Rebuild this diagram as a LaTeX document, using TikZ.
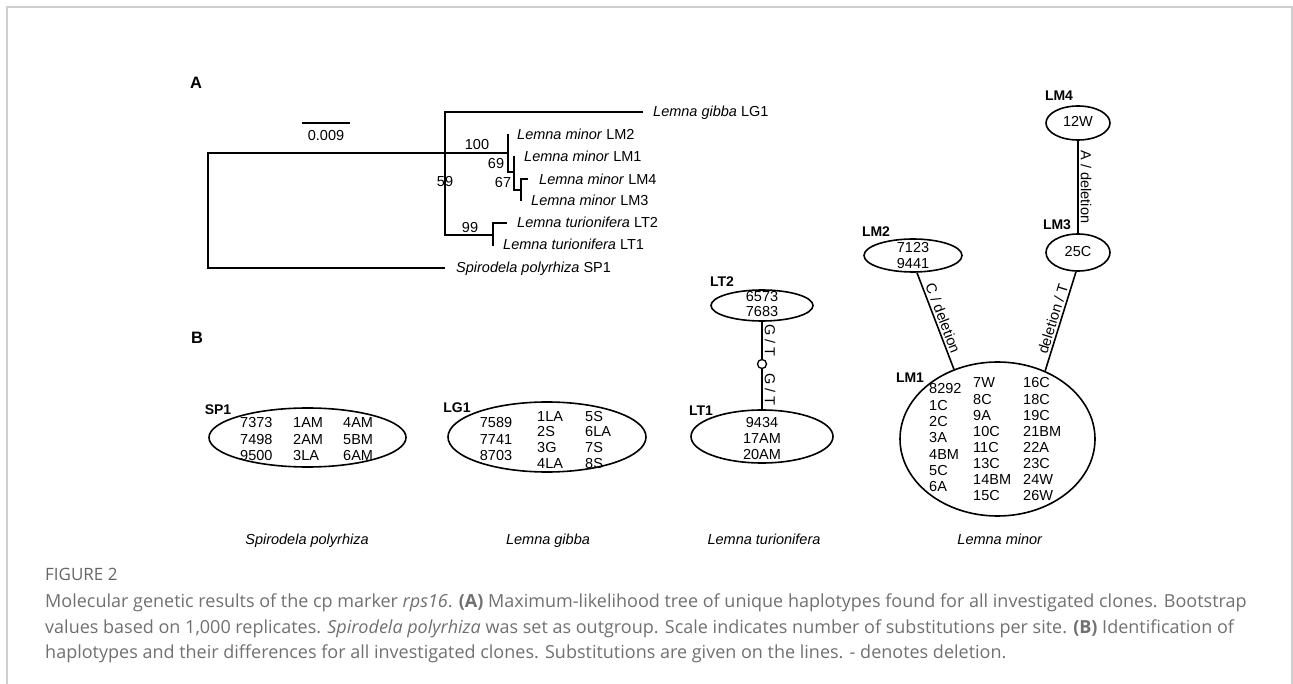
\documentclass[tikz,border=0pt]{standalone}
\usepackage{fontspec}
\setmainfont{Liberation Sans}
\newfontfamily\capfont{Open Sans}
\usetikzlibrary{shapes.geometric}
\definecolor{capgray}{HTML}{707070}
\definecolor{figgray}{HTML}{666666}
\definecolor{framegray}{HTML}{CFCFCF}
\begin{document}
\begin{tikzpicture}[x=1pt,y=-1pt,
  br/.style={line width=1.6pt, line join=miter},
  tx/.style={inner sep=0pt, text height=10pt, text depth=0pt, font=\fontsize{14.5}{16}\selectfont},
  hd/.style={inner sep=0pt, text height=10pt, text depth=0pt, font=\fontsize{14}{16}\selectfont\bfseries},
  pan/.style={inner sep=0pt, text height=12pt, text depth=0pt, font=\fontsize{16.5}{18}\selectfont\bfseries},
  hap/.style={draw, ellipse, line width=1.6pt, inner sep=0pt},
  sub/.style={midway, above, sloped, inner sep=2pt, font=\fontsize{14.5}{16}\selectfont},
  captxt/.style={inner sep=0pt, anchor=base west, text=capgray, font=\capfont\fontsize{18}{20}\selectfont}
]
\useasboundingbox (0,0) rectangle (1293,684);
% frame
\draw[framegray, line width=1.5pt] (7,684) -- (7,7) -- (1292,7) -- (1292,684);

% panel labels
\node[pan] (pA) at (196,83) {A};
\node[pan] (pB) at (197,338) {B};

% scale bar
\coordinate (s1) at (302,123);
\coordinate (s2) at (350,123);
\draw[line width=1.6pt] (s1) -- (s2);
\node[tx] (scale) at (326,136) {0.009};

% tree
\draw[br] (445,153) -- (208,153) -- (208,268) -- (445,268);
\draw[br] (643,112) -- (445,112) -- (445,235) -- (493,235);
\draw[br] (445,153) -- (508,153);
\draw[br] (508,134) -- (508,172) -- (514,172);
\draw[br] (514,156) -- (514,190) -- (521,190);
\draw[br] (528,179) -- (521,179) -- (521,201);
\draw[br] (493,246) -- (493,223) -- (507,223);

\node[tx, anchor=west] (tLG1) at (653,112) {\textit{Lemna gibba} LG1};
\node[tx, anchor=west] (tLM2) at (517,135) {\textit{Lemna minor} LM2};
\node[tx, anchor=west] (tLM1) at (524,157) {\textit{Lemna minor} LM1};
\node[tx, anchor=west] (tLM4) at (539,180) {\textit{Lemna minor} LM4};
\node[tx, anchor=west] (tLM3) at (531,201) {\textit{Lemna minor} LM3};
\node[tx, anchor=west] (tLT2) at (517,223) {\textit{Lemna turionifera} LT2};
\node[tx, anchor=west] (tLT1) at (503,245) {\textit{Lemna turionifera} LT1};
\node[tx, anchor=west] (tSP1) at (456,268) {\textit{Spirodela polyrhiza} SP1};

\node[tx] (b100) at (477,145) {100};
\node[tx] (b69) at (496,164) {69};
\node[tx] (b67) at (503,183) {67};
\node[tx] (b59) at (445,182) {59};
\node[tx] (b99) at (470,228) {99};

% haplotype ellipses
\node[hap, minimum width=197pt, minimum height=59pt] (sp1) at (307.5,437.5) {};
\node[hap, minimum width=198pt, minimum height=70pt] (lg1) at (547,437) {};
\node[hap, minimum width=102pt, minimum height=31pt] (lt2) at (762,305.5) {};
\node[hap, minimum width=142pt, minimum height=53pt] (lt1) at (762,436.5) {};
\node[hap, minimum width=64pt, minimum height=34pt] (lm4) at (1078,123) {};
\node[hap, minimum width=64pt, minimum height=37pt] (lm3) at (1078,252.5) {};
\node[hap, minimum width=98pt, minimum height=33pt] (lm2) at (913,255.5) {};
\node[hap, minimum width=195pt, minimum height=154pt] (lm1) at (997.5,439) {};

% haplotype names
\node[hd] (nSP1) at (218,409) {SP1};
\node[hd] (nLG1) at (457,407) {LG1};
\node[hd] (nLT2) at (722,282) {LT2};
\node[hd] (nLT1) at (701,410) {LT1};
\node[hd] (nLM4) at (1059,96) {LM4};
\node[hd] (nLM3) at (1057,225) {LM3};
\node[hd] (nLM2) at (876,232) {LM2};
\node[hd] (nLM1) at (910,378) {LM1};

% SP1 content
\foreach \a/\b/\c [count=\i from 0] in {7373/1AM/4AM, 7498/2AM/5BM, 9500/3LA/6AM}{
  \node[tx, anchor=west] (spa\i) at (240,423+16*\i) {\a};
  \node[tx, anchor=west] (spb\i) at (293,423+16*\i) {\b};
  \node[tx, anchor=west] (spc\i) at (343,423+16*\i) {\c};
}
% LG1 content
\foreach \a [count=\i from 0] in {7589,7741,8703}{
  \node[tx] (lga\i) at (496,423+16*\i) {\a};
}
\foreach \b/\c [count=\i from 0] in {1LA/5S, 2S/6LA, 3G/7S, 4LA/8S}{
  \node[tx, anchor=west] (lgb\i) at (537,416+15.7*\i) {\b};
  \node[tx, anchor=west] (lgc\i) at (585,416+15.7*\i) {\c};
}
% LT2, LT1
\node[tx] (lt2a) at (762,297) {6573};
\node[tx] (lt2b) at (762,312) {7683};
\node[tx] (lt1a) at (762,422) {9434};
\node[tx] (lt1b) at (762,438) {17AM};
\node[tx] (lt1c) at (762,454) {20AM};
% LM4, LM3, LM2
\node[tx] (lm4a) at (1078,122) {12W};
\node[tx] (lm3a) at (1078,252) {25C};
\node[tx] (lm2a) at (913,248) {7123};
\node[tx] (lm2b) at (913,264) {9441};
% LM1 content
\foreach \a [count=\i from 0] in {8292,1C,2C,3A,4BM,5C,6A}{
  \node[tx, anchor=west] (lma\i) at (929,389+16.3*\i) {\a};
}
\foreach \b/\c [count=\i from 0] in {7W/16C, 8C/18C, 9A/19C, 10C/21BM, 11C/22A, 13C/23C, 14BM/24W, 15C/26W}{
  \node[tx, anchor=west] (lmb\i) at (973,383+16.1*\i) {\b};
  \node[tx, anchor=west] (lmc\i) at (1023,383+16.1*\i) {\c};
}

% connectors
\node[circle, draw, line width=1.3pt, fill=white, minimum size=9pt, inner sep=0pt] (mv) at (762,364) {};
\draw[br] (lt2) -- node[sub] {G / T} (mv);
\draw[br] (mv) -- node[sub] {G / T} (lt1);
\draw[br] (lm4) -- node[sub] {A / deletion} (lm3);
\draw[br] (lm2.-77) -- node[sub] {C / deletion} (lm1.122);
\draw[br] (lm1.55) -- node[sub] {deletion / T} (lm3.-96);

% species names
\node[tx] (spSP) at (307,539) {\textit{Spirodela polyrhiza}};
\node[tx] (spLG) at (548,539) {\textit{Lemna gibba}};
\node[tx] (spLT) at (764,539) {\textit{Lemna turionifera}};
\node[tx] (spLM) at (1000,539) {\textit{Lemna minor}};

% caption
\node[captxt, text=figgray, font=\capfont\fontsize{17}{18}\selectfont] (fig) at (45,580) {FIGURE 2};
\node[captxt] (c1) at (45,607) {Molecular genetic results of the cp marker \textit{rps16}. \textbf{(A)} Maximum-likelihood tree of unique haplotypes found for all investigated clones. Bootstrap};
\node[captxt] (c2) at (45,633) {values based on 1,000 replicates. \textit{Spirodela polyrhiza} was set as outgroup. Scale indicates number of substitutions per site. \textbf{(B)} Identification of};
\node[captxt] (c3) at (45,658) {haplotypes and their differences for all investigated clones. Substitutions are given on the lines. - denotes deletion.};
\end{tikzpicture}
\end{document}
